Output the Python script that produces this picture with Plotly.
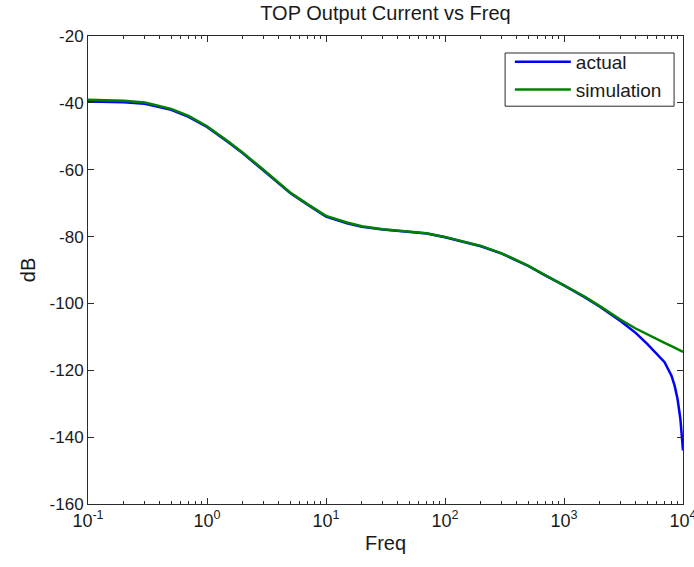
import plotly.graph_objects as go

# Data
freq_actual = [0.1, 0.2, 0.3, 0.5, 0.7, 1.0, 1.5, 2.0, 3.0, 4.0, 5.0, 7.0, 10, 15, 20, 30, 50, 70,
               100, 150, 200, 300, 500, 700, 1000, 1500, 2000, 3000, 4000, 5000, 6000, 7000,
               8000, 8500, 9000, 9500, 10000]
db_actual = [-39.6, -39.8, -40.3, -42.1, -44.2, -47.2, -51.7, -55.1, -60.3, -64.2, -67.0, -70.5,
             -74.0, -76.0, -77.1, -77.9, -78.5, -79.1, -80.2, -81.8, -82.9, -85.1, -88.8, -91.7,
             -94.6, -98.2, -101.0, -105.3, -108.8, -112.1, -115.1, -117.6, -121.6, -124.6,
             -128.6, -134.5, -144.0]

freq_sim = [0.1, 0.2, 0.3, 0.5, 0.7, 1.0, 1.5, 2.0, 3.0, 4.0, 5.0, 7.0, 10, 15, 20, 30, 50, 70,
            100, 150, 200, 300, 500, 700, 1000, 1500, 2000, 3000, 4000, 5000, 6000, 7000,
            8000, 10000]
db_sim = [-39.1, -39.4, -39.9, -41.8, -43.9, -47.0, -51.5, -54.9, -60.1, -64.0, -66.8, -70.3,
          -73.8, -75.8, -76.9, -77.8, -78.4, -79.0, -80.1, -81.7, -82.8, -85.0, -88.7, -91.6,
          -94.5, -98.0, -100.8, -104.9, -107.5, -109.3, -110.7, -111.8, -112.8, -114.5]

x_tickvals = [0.1, 1, 10, 100, 1000, 10000]
x_ticktext = ["10<sup>-1</sup>", "10<sup>0</sup>", "10<sup>1</sup>", "10<sup>2</sup>",
              "10<sup>3</sup>", "10<sup>4</sup>"]
x_minor = [m * 10.0 ** e for e in range(-1, 4) for m in range(2, 10)]
y_tickvals = [-160, -140, -120, -100, -80, -60, -40, -20]
y_ticktext = ["-160", "-140", "-120", "-100", "-80", "-60", "-40", "-20"]

fig = go.Figure()
fig.add_trace(go.Scatter(x=freq_actual, y=db_actual, mode="lines", name="actual",
                         line=dict(color="#0000FF", width=2.5)))
fig.add_trace(go.Scatter(x=freq_sim, y=db_sim, mode="lines", name="simulation",
                         line=dict(color="#008000", width=2.5)))
# carrier for the minor-tick overlay axis (no visible marks)
fig.add_trace(go.Scatter(x=[1], y=[-200], xaxis="x2", mode="lines", showlegend=False,
                         hoverinfo="skip", line=dict(width=0)))

axis_col = "#2b2b2b"
txt_col = "#1a1a1a"
fig.update_layout(
    width=694, height=567,
    margin=dict(l=88, r=11, t=36, b=63),
    paper_bgcolor="white", plot_bgcolor="white",
    font=dict(family="Liberation Sans, Arial, sans-serif", size=17, color=txt_col),
    title=dict(text="TOP Output Current vs Freq", x=0.5, xref="paper", xanchor="center",
               y=0.977, yref="container", yanchor="middle", font=dict(size=20, color=txt_col)),
    showlegend=True,
    legend=dict(x=0.709, y=0.985, xanchor="left", yanchor="top",
                borderwidth=0, bgcolor="rgba(0,0,0,0)",
                font=dict(size=19, color=txt_col), tracegroupgap=0,
                itemwidth=56),
    shapes=[dict(type="rect", xref="paper", yref="paper", x0=0.701, x1=0.985,
                 y0=0.850, y1=0.9637, line=dict(color=axis_col, width=1),
                 fillcolor="white", layer="above")],
    xaxis=dict(
        type="log", range=[-1, 4], tickvals=x_tickvals, ticktext=x_ticktext,
        showline=True, linecolor=axis_col, linewidth=1, mirror="ticks",
        ticks="inside", ticklen=6, tickcolor=axis_col, showgrid=False, zeroline=False,
        ticklabeloverflow="allow", tickfont=dict(size=18), automargin=False,
        title=dict(text="Freq", standoff=6, font=dict(size=20)),
    ),
    xaxis2=dict(type="log", range=[-1, 4], overlaying="x", anchor="y", side="bottom",
                tickvals=x_minor, ticktext=[""] * len(x_minor), automargin=False,
                ticks="inside", ticklen=3, tickcolor=axis_col, mirror="ticks",
                showline=False, showgrid=False, zeroline=False, fixedrange=True),
    yaxis=dict(
        range=[-160, -20], tickvals=y_tickvals, ticktext=y_ticktext,
        showline=True, linecolor=axis_col, linewidth=1, mirror="ticks",
        ticks="inside", ticklen=6, tickcolor=axis_col, showgrid=False, zeroline=False,
        tickfont=dict(size=17), automargin=False,
        title=dict(text="dB", standoff=8, font=dict(size=20)),
    ),
)

fig.write_html("out.html")
